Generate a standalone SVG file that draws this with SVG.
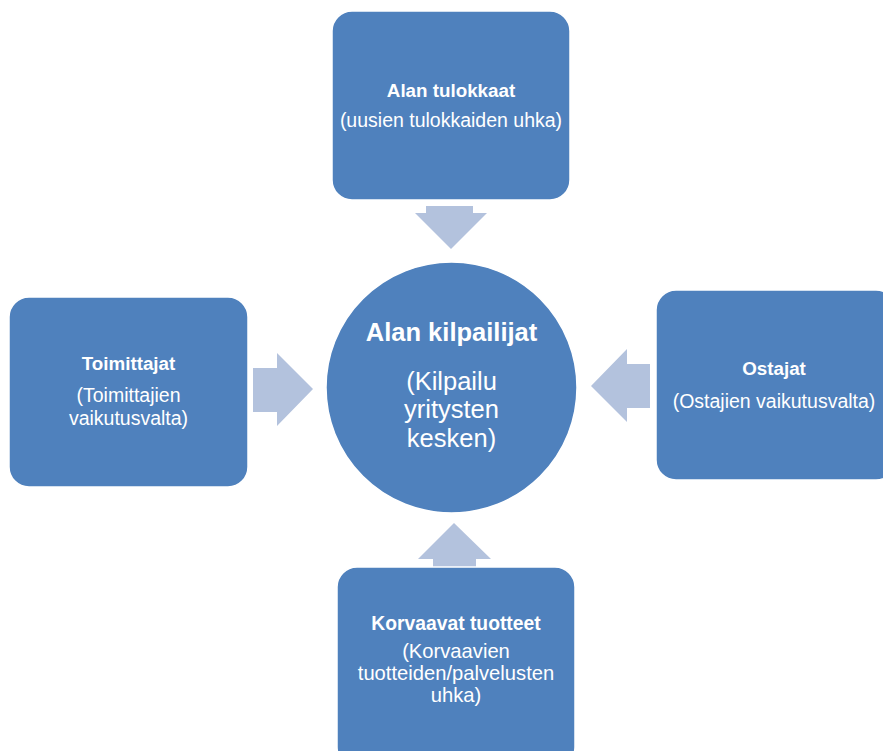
<svg xmlns="http://www.w3.org/2000/svg" width="883" height="751" viewBox="0 0 883 751">
<style>
.box{fill:#4F81BD;stroke:#FFFFFF;stroke-width:1.5}
.arrow{fill:#B3C2DD}
text{font-family:"Liberation Sans",Arial,sans-serif;fill:#FFFFFF;text-anchor:middle}
.b{font-weight:bold;font-size:18.8px}
.r{font-size:19.5px}
.bb{font-weight:bold;font-size:19.3px}
.rb{font-size:20.2px}
.cb{font-weight:bold;font-size:25.5px}
.cr{font-size:25.5px}
</style>
<rect width="883" height="751" fill="#FFFFFF"/>
<g id="connectors">
<polygon class="arrow" points="426,206 473,206 473,213 487,213 451,249 415,213 426,213"/>
<polygon class="arrow" points="253,368 277,368 277,353 313,389 277,426 277,412 253,412"/>
<polygon class="arrow" points="650,364 627,364 627,349 591,386 627,422 627,408 650,408"/>
<polygon class="arrow" points="433,567 476,567 476,559 491,559 454,523 418,559 433,559"/>
</g>
<g id="center">
<circle class="box" cx="451.5" cy="387.5" r="125.5"/>
<text class="cb" x="451.5" y="341">Alan kilpailijat</text>
<text class="cr" x="451.5" y="390">(Kilpailu</text>
<text class="cr" x="451.5" y="418">yritysten</text>
<text class="cr" x="451.5" y="447">kesken)</text>
</g>
<g id="top">
<rect class="box" x="332" y="11" width="238" height="189" rx="20" ry="20"/>
<text class="b" x="451" y="97">Alan tulokkaat</text>
<text class="r" x="451" y="127">(uusien tulokkaiden uhka)</text>
</g>
<g id="left">
<rect class="box" x="9" y="297" width="239" height="190" rx="20" ry="20"/>
<text class="b" x="128.5" y="370">Toimittajat</text>
<text class="r" x="128.5" y="402">(Toimittajien</text>
<text class="r" x="128.5" y="425">vaikutusvalta)</text>
</g>
<g id="right">
<rect class="box" x="656" y="290" width="240" height="190" rx="20" ry="20"/>
<text class="b" x="774" y="375">Ostajat</text>
<text class="r" x="774" y="408">(Ostajien vaikutusvalta)</text>
</g>
<g id="bottom">
<rect class="box" x="337" y="567" width="238" height="200" rx="20" ry="20"/>
<text class="bb" x="456" y="630">Korvaavat tuotteet</text>
<text class="rb" x="456" y="658">(Korvaavien</text>
<text class="rb" x="456" y="680">tuotteiden/palvelusten</text>
<text class="rb" x="456" y="702">uhka)</text>
</g>
</svg>
